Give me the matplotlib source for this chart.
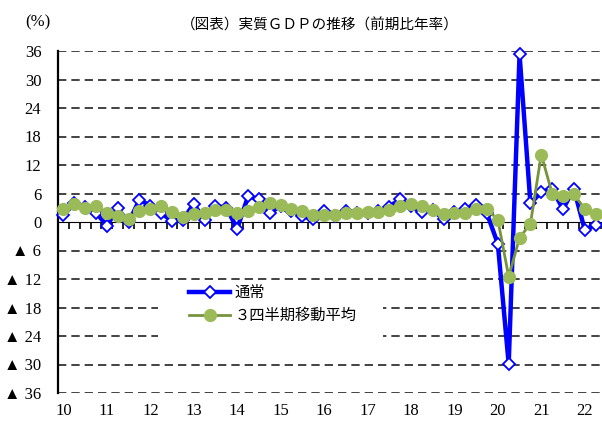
import numpy as np
import matplotlib
matplotlib.use("Agg")
import matplotlib.pyplot as plt
from matplotlib.patches import Rectangle

plt.rcParams['font.family'] = ['Liberation Serif', 'Noto Sans CJK JP']
plt.rcParams['lines.scale_dashes'] = False

# quarterly data, 2010Q1 - 2022Q2 (annualized q/q, %)
year_labels = ['10', '11', '12', '13', '14', '15', '16', '17', '18', '19', '20', '21', '22']
normal = [1.5, 3.9, 3.1, 2.0,
          -0.8, 2.9, -0.1, 4.7,
          3.4, 1.8, 0.3, 0.5,
          3.8, 0.4, 3.4, 3.0,
          -1.4, 5.4, 4.8, 2.0,
          3.3, 2.3, 1.3, 0.6,
          2.4, 1.2, 2.4, 2.0,
          2.0, 2.3, 3.2, 4.8,
          3.3, 2.1, 2.5, 0.6,
          2.2, 2.7, 3.6, 1.8,
          -4.6, -29.9, 35.3, 3.9,
          6.3, 7.0, 2.7, 7.0,
          -1.6, -0.6]
moving3 = [2.7, 3.8, 3.0, 3.4,
           1.9, 1.3, 0.7, 2.4,
           2.8, 3.4, 2.2, 1.0,
           1.7, 1.8, 2.6, 2.6,
           1.8, 2.4, 3.1, 3.9,
           3.5, 2.7, 2.3, 1.4,
           1.4, 1.4, 2.0, 1.9,
           2.1, 2.1, 2.5, 3.4,
           3.7, 3.3, 2.6, 1.7,
           1.8, 1.8, 2.8, 2.7,
           0.5, -11.5, -3.3, -0.4,
           14.2, 6.0, 5.4, 5.8,
           2.8, 1.7]
y_ticks = [36, 30, 24, 18, 12, 6, 0, -6, -12, -18, -24, -30, -36]

x = np.arange(len(normal))

fig = plt.figure(figsize=(6.02, 4.22), dpi=100)
ax = fig.add_axes([58 / 602, 29 / 422, 543 / 602, 342 / 422])
ax.set_xlim(-0.5, len(normal) - 0.5)
ax.set_ylim(-36, 36)

# dashed gridlines (0 is the solid axis)
for v in y_ticks:
    if v != 0:
        ax.axhline(v, color='#222222', lw=1.2, linestyle=(0, (6, 3.6)), zorder=1)

# white box behind legend hides part of the grid
ax.add_patch(Rectangle((8.7, -28.3), 20.7, 15.2, facecolor='white',
                       edgecolor='none', zorder=2))

ax.plot(x, normal, color='#0000FF', lw=3.2, marker='D', ms=6,
        mfc='white', mec='#0000FF', mew=1.3, zorder=4, clip_on=False,
        label='通常')
ax.plot(x, moving3, color='#77933C', lw=2.0, marker='o', ms=8.5,
        mfc='#9BBB59', mec='#9BBB59', zorder=5, clip_on=False,
        label='３四半期移動平均')

# zero line with quarter ticks
quarter_edges = np.arange(-0.5, len(normal), 1)
sec = ax.secondary_xaxis(0.5)
sec.set_xticks(quarter_edges, [''] * len(quarter_edges))
sec.tick_params(axis='x', direction='in', length=5, width=1.2, color='black')
sec.spines['bottom'].set_linewidth(1.6)

ax.set_xticks(np.arange(0, len(normal), 4))
ax.set_xticklabels(year_labels)
ax.tick_params(axis='x', length=0, pad=7, labelsize=12)

ax.set_yticks(y_ticks)
ax.set_yticklabels([str(v) if v >= 0 else '▲ ' + str(-v) for v in y_ticks],
                   family=['Liberation Serif', 'DejaVu Sans', 'Noto Sans CJK JP'])
ax.tick_params(axis='y', length=0, pad=12, labelsize=12)

for s in ['top', 'right', 'bottom']:
    ax.spines[s].set_visible(False)
ax.spines['left'].set_linewidth(1.6)

ax.legend(loc='upper left', bbox_to_anchor=(189 / 602, 1 - 286 / 422),
          bbox_transform=fig.transFigure, frameon=False, fontsize=11,
          handlelength=2.7, handletextpad=0.3, labelspacing=0.55,
          borderpad=0, borderaxespad=0)

fig.text(320 / 602, 1 - 25 / 422, '（図表）実質ＧＤＰの推移（前期比年率）',
         ha='center', va='center', fontsize=10.5)
fig.text(38 / 602, 1 - 22 / 422, '(%)', ha='center', va='center', fontsize=12)

fig.savefig('out.png', dpi=100)
